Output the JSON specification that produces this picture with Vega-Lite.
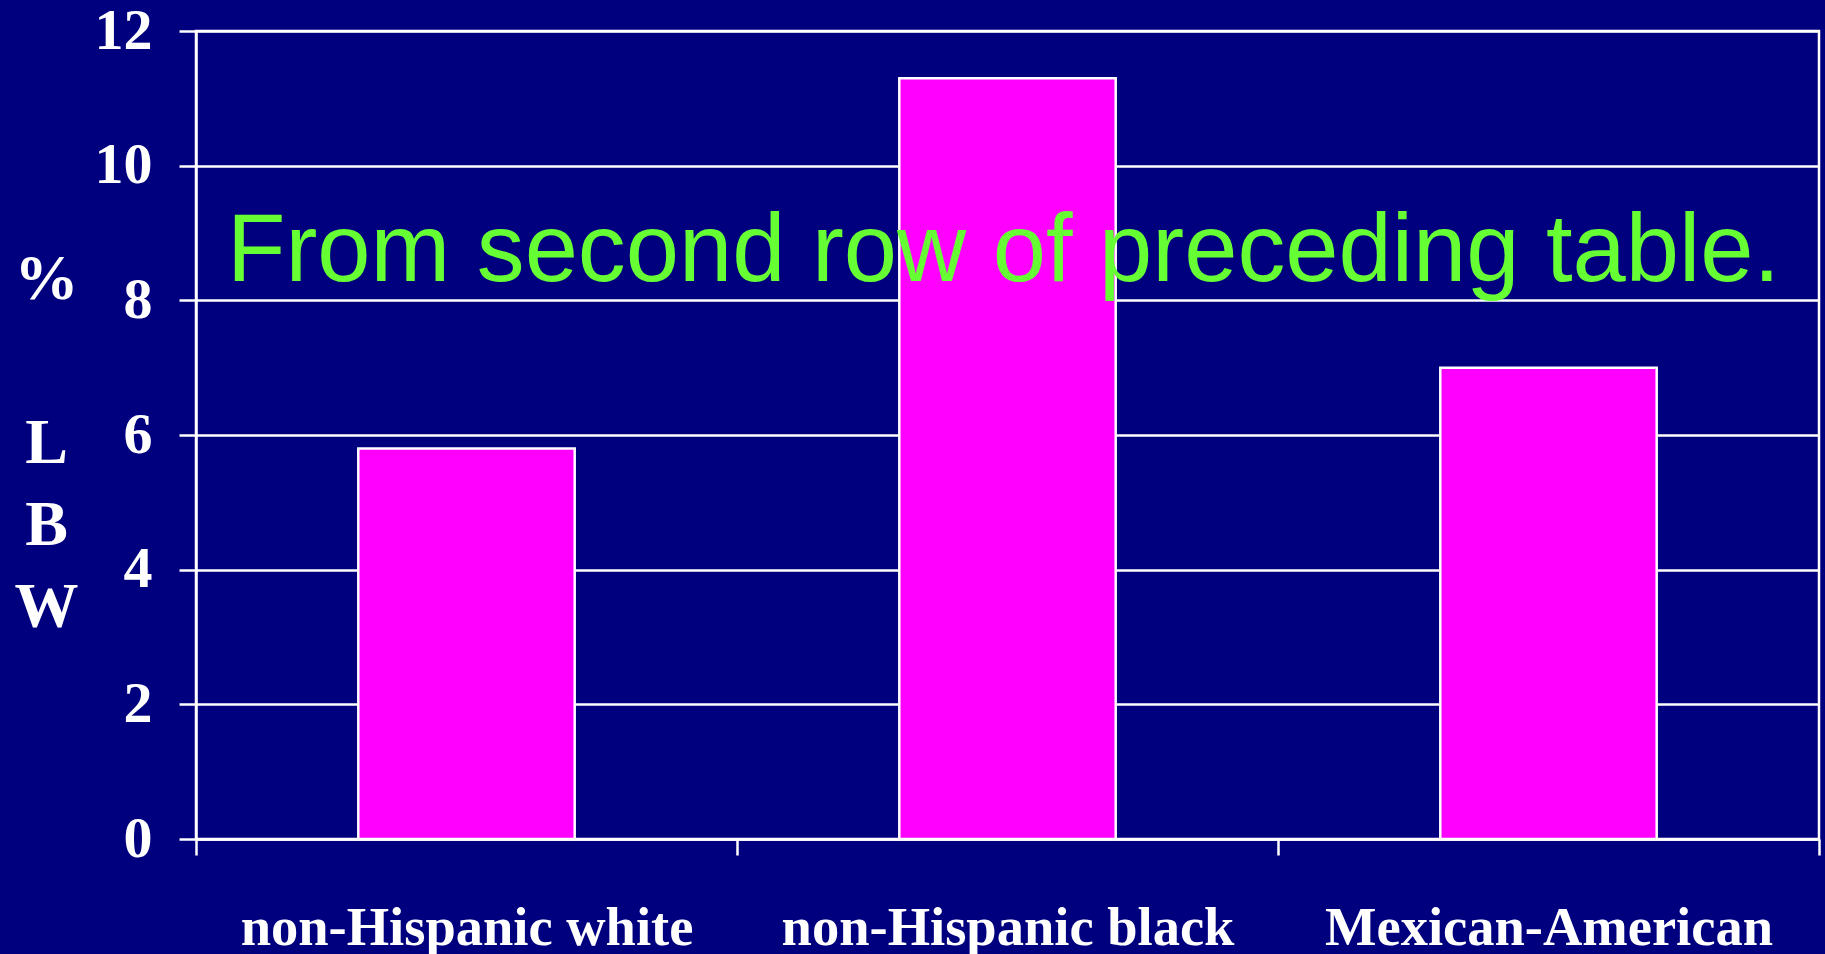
{
  "$schema": "https://vega.github.io/schema/vega-lite/v6.json",
  "width": 1623,
  "height": 808,
  "autosize": {"type": "none"},
  "padding": {"left": 196, "top": 31, "right": 6, "bottom": 115},
  "background": "#00007e",
  "config": {
    "view": {"stroke": "#ffffff", "strokeWidth": 2.5},
    "axis": {
      "domainColor": "#ffffff",
      "domainWidth": 2.5,
      "tickColor": "#ffffff",
      "tickWidth": 2.5,
      "gridColor": "#ffffff",
      "gridWidth": 2.5,
      "gridOpacity": 1,
      "labelColor": "#ffffff",
      "labelFont": "Liberation Serif",
      "labelFontWeight": "bold",
      "labelLimit": 0,
      "titleColor": "#ffffff",
      "titleFont": "Liberation Serif",
      "titleFontWeight": "bold"
    }
  },
  "datasets": {
    "lbw": [
      {"group": "non-Hispanic white", "pct": 5.8},
      {"group": "non-Hispanic black", "pct": 11.3},
      {"group": "Mexican-American", "pct": 7.0}
    ],
    "note": [
      {"text": "From second row of preceding table."}
    ]
  },
  "layer": [
    {
      "data": {"name": "lbw"},
      "mark": {
        "type": "bar",
        "color": "#ff00ff",
        "stroke": "#ffffff",
        "strokeWidth": 2.5,
        "width": {"band": 0.4}
      },
      "encoding": {
        "x": {
          "field": "group",
          "type": "nominal",
          "sort": null,
          "scale": {"paddingInner": 0, "paddingOuter": 0},
          "axis": {
            "title": null,
            "labelAngle": 0,
            "labelFontSize": 54.5,
            "labelPadding": 46,
            "tickSize": 16,
            "tickBand": "extent",
            "grid": false
          }
        },
        "y": {
          "field": "pct",
          "type": "quantitative",
          "scale": {"domain": [0, 12], "nice": false},
          "axis": {
            "values": [0, 2, 4, 6, 8, 10, 12],
            "format": "d",
            "labelFontSize": 58,
            "labelPadding": 27,
            "tickSize": 17,
            "grid": true,
            "title": ["%", "\u200b", "L", "B", "W"],
            "titleAngle": 0,
            "titleFontSize": 64,
            "titleLineHeight": 82,
            "titleAlign": "center",
            "titleBaseline": "alphabetic",
            "titleX": -150,
            "titleY": 267
          }
        }
      }
    },
    {
      "data": {"name": "note"},
      "mark": {
        "type": "text",
        "font": "Liberation Sans",
        "fontSize": 95.7,
        "color": "#66ff33",
        "align": "center",
        "baseline": "alphabetic",
        "dx": -4
      },
      "encoding": {
        "x": {"datum": "non-Hispanic black", "type": "nominal"},
        "y": {"datum": 8.28, "type": "quantitative"},
        "text": {"field": "text"}
      }
    }
  ]
}
